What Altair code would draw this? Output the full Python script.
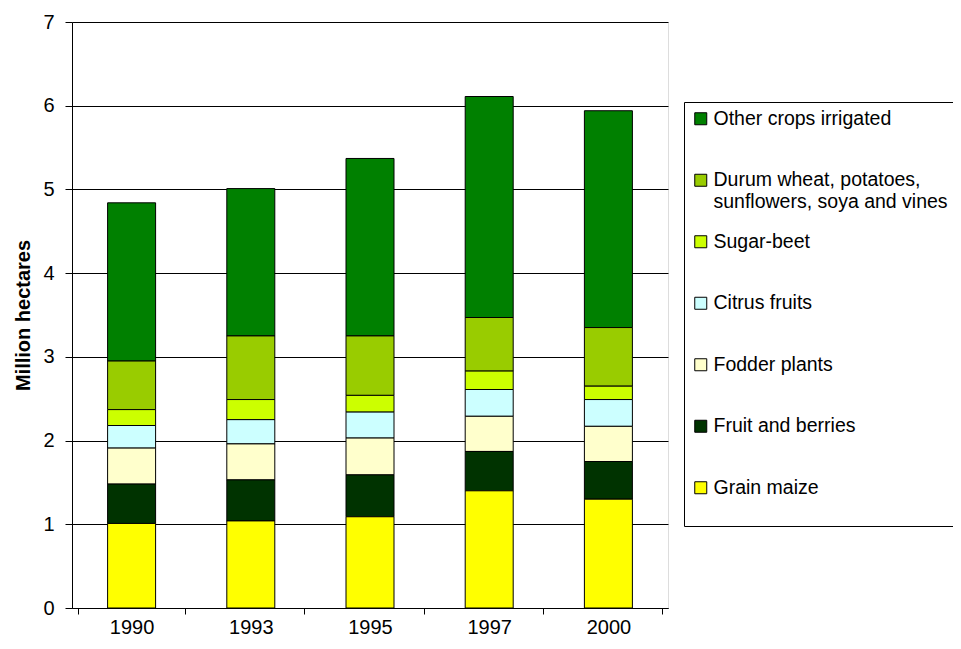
import altair as alt
import pandas as pd

years = ["1990", "1993", "1995", "1997", "2000"]
crops = [
    "Other crops irrigated",
    "Durum wheat, potatoes, sunflowers, soya and vines",
    "Sugar-beet",
    "Citrus fruits",
    "Fodder plants",
    "Fruit and berries",
    "Grain maize",
]
colors = ["#008000", "#99CC00", "#CCFF00", "#CCFFFF", "#FFFFCC", "#003300", "#FFFF00"]

grain_maize = [1.01, 1.04, 1.09, 1.40, 1.30]
fruit_berries = [0.47, 0.49, 0.50, 0.47, 0.45]
fodder = [0.43, 0.43, 0.44, 0.42, 0.42]
citrus = [0.27, 0.29, 0.31, 0.32, 0.32]
sugar_beet = [0.19, 0.24, 0.20, 0.22, 0.16]
durum_etc = [0.58, 0.76, 0.71, 0.64, 0.70]
other = [1.89, 1.76, 2.12, 2.64, 2.59]

series = [other, durum_etc, sugar_beet, citrus, fodder, fruit_berries, grain_maize]

rows = []
for ci, (crop, vals) in enumerate(zip(crops, series)):
    for y, v in zip(years, vals):
        rows.append({"year": y, "crop": crop, "value": v, "stack": len(crops) - 1 - ci})
df = pd.DataFrame(rows)

FONT = "Liberation Sans"
multi = ("datum.label == 'Durum wheat, potatoes, sunflowers, soya and vines' ? "
         "['Durum wheat, potatoes,', 'sunflowers, soya and vines'] : "
         "(datum.label == 'Grain maize' ? ['Grain maize', ''] : datum.label)")

chart = alt.Chart(df).mark_bar(size=48, stroke="black", strokeWidth=1).encode(
    x=alt.X("year:N", title=None, sort=years,
            axis=alt.Axis(labelAngle=0, labelFont=FONT, labelFontSize=20, labelColor="black",
                          tickSize=6, tickColor="black", tickBand="extent", labelPadding=3,
                          domainColor="black", grid=False)),
    y=alt.Y("value:Q", title="Million hectares", stack="zero",
            scale=alt.Scale(domain=[0, 7], nice=False),
            axis=alt.Axis(values=[0, 1, 2, 3, 4, 5, 6, 7], labelFont=FONT, labelFontSize=20,
                          labelColor="black", tickSize=7, tickColor="black", labelPadding=11,
                          domainColor="black", gridColor="black", gridWidth=1,
                          titleFont=FONT, titleFontSize=20, titleFontWeight="bold",
                          titleColor="black", titlePadding=9)),
    color=alt.Color("crop:N", scale=alt.Scale(domain=crops, range=colors),
                    legend=alt.Legend(title=None, orient="none", legendX=612, legendY=80,
                                      columns=1, gridAlign="all",
                                      symbolType="square", symbolSize=144,
                                      symbolStrokeColor="black", symbolStrokeWidth=1,
                                      labelFont=FONT, labelFontSize=19.5, labelColor="black",
                                      labelLimit=600, labelExpr=multi, rowPadding=19.5,
                                      padding=7, strokeColor="black", fillColor="white",
                                      labelOffset=3)),
    order=alt.Order("stack:Q", sort="ascending"),
).properties(
    width=596, height=586,
    autosize=alt.AutoSizeParams(type="none"),
    padding={"left": 64, "top": 14, "right": 285, "bottom": 29},
).configure_view(stroke="#808080", strokeWidth=1).configure(background="white")

chart.save("out.html", embed_options={"renderer": "svg", "actions": False})
